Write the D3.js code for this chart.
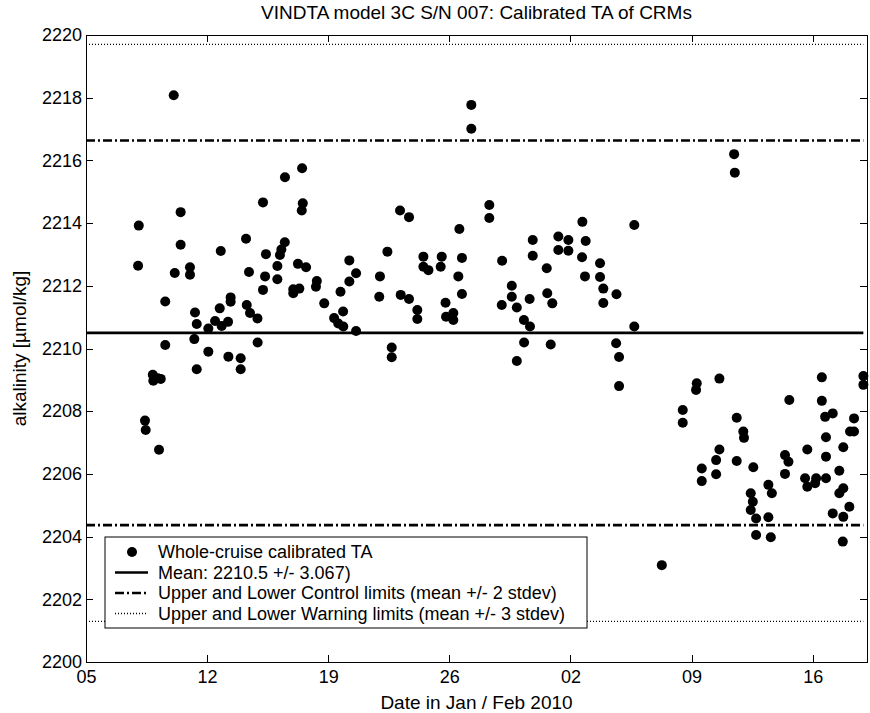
<!DOCTYPE html>
<html>

<head>
    <meta charset="UTF-8">
    <title>VINDTA CRM TA</title>
    <style type="text/css">
        body {
            margin: 0;
            background: #fff;
        }

        text {
            font-family: "Liberation Sans", Arial, Helvetica, sans-serif;
            fill: #000;
        }

        .axis text {
            font-size: 18px;
        }

        .axis path,
        .axis line {
            stroke: #000;
            shape-rendering: crispEdges;
        }

        .legend text {
            font-size: 18px;
        }
    </style>
    <script src="https://d3js.org/d3.v7.min.js"></script>
</head>

<body>
    <script type="text/javascript">
        // Sample times, as day of year 2010 (Jan 5 = 5, Feb 1 = 32)
        const days = [8.05, 8.01, 8.41, 8.45, 8.86, 8.89, 9.14, 9.32, 9.22, 9.58,
            9.58, 10.07, 10.13, 10.47, 10.47, 11.01, 11.01, 11.30, 11.40, 11.26,
            11.40, 12.07, 12.07, 12.46, 12.73, 12.79, 12.84, 13.21, 13.23, 13.36,
            13.36, 13.94, 13.94, 14.25, 14.29, 14.48, 14.42, 14.91, 14.92, 15.23,
            15.23, 15.35, 15.40, 16.06, 16.06, 16.21, 16.29, 16.49, 16.50, 16.98,
            17.33, 16.98, 17.25, 17.72, 17.49, 17.53, 17.47, 18.34, 18.29, 18.77,
            19.34, 19.86, 19.58, 19.87, 19.71, 20.22, 20.61, 20.22, 20.61, 21.95,
            21.99, 22.42, 22.67, 22.67, 23.15, 23.67, 23.19, 23.67, 24.15, 24.15,
            24.50, 24.50, 24.79, 25.56, 25.50, 25.78, 25.81, 26.23, 26.23, 26.58,
            26.73, 26.52, 26.73, 27.27, 27.27, 28.31, 28.31, 29.05, 29.03, 29.61,
            29.61, 29.90, 29.90, 30.31, 30.64, 30.66, 30.32, 30.82, 30.82, 31.63,
            31.66, 31.95, 31.86, 32.30, 32.88, 32.30, 32.88, 33.69, 33.88, 33.67,
            33.84, 34.71, 34.71, 34.90, 34.90, 35.66, 35.64, 35.81, 35.81, 36.69,
            36.69, 38.28, 39.49, 39.49, 40.30, 40.26, 40.59, 40.59, 41.42, 41.42,
            41.61, 41.61, 42.46, 42.50, 42.61, 42.99, 43.03, 42.61, 43.57, 43.42,
            43.54, 43.42, 43.73, 43.73, 44.44, 44.64, 44.44, 44.58, 45.40, 45.60,
            45.40, 45.65, 46.69, 46.56, 46.69, 47.14, 47.20, 47.53, 47.53, 47.72,
            48.16, 47.77, 47.77, 47.77, 48.16, 48.54, 48.54, 48.77, 48.77, 48.77,
            48.74, 49.12, 49.16, 49.39, 49.39, 49.93, 49.93];

        // Calibrated TA of CRMs (umol/kg)
        const ta = [2213.92, 2212.64, 2207.70, 2207.40, 2209.16, 2208.97, 2209.05, 2209.03, 2206.77, 2210.11,
            2211.50, 2218.08, 2212.41, 2214.35, 2213.31, 2212.59, 2212.35, 2211.15, 2210.78, 2210.30,
            2209.34, 2210.64, 2209.90, 2210.88, 2211.28, 2213.11, 2210.72, 2210.85, 2209.74, 2211.63,
            2211.49, 2209.69, 2209.34, 2213.50, 2211.39, 2211.13, 2212.44, 2210.96, 2210.19, 2214.66,
            2211.87, 2212.30, 2213.01, 2212.63, 2212.21, 2212.98, 2213.16, 2213.39, 2215.46, 2211.89,
            2211.91, 2211.76, 2212.70, 2212.59, 2215.75, 2214.63, 2214.40, 2212.15, 2211.97, 2211.44,
            2210.97, 2211.18, 2210.80, 2210.70, 2211.81, 2212.81, 2212.40, 2212.14, 2210.56, 2211.65,
            2212.30, 2213.09, 2210.03, 2209.72, 2214.40, 2214.19, 2211.71, 2211.58, 2211.23, 2210.94,
            2212.93, 2212.61, 2212.50, 2212.93, 2212.61, 2211.46, 2211.01, 2211.13, 2210.91, 2213.81,
            2212.89, 2212.30, 2211.74, 2217.77, 2217.01, 2214.58, 2214.16, 2212.80, 2211.39, 2212.00,
            2211.65, 2211.31, 2209.60, 2210.91, 2211.58, 2210.70, 2210.19, 2213.46, 2212.96, 2212.56,
            2211.76, 2211.44, 2210.13, 2213.57, 2213.46, 2213.14, 2213.12, 2214.04, 2213.43, 2212.91,
            2212.30, 2212.72, 2212.28, 2211.91, 2211.45, 2211.73, 2210.17, 2209.73, 2208.80, 2213.94,
            2210.70, 2203.09, 2208.04, 2207.63, 2208.89, 2208.68, 2206.17, 2205.77, 2206.44, 2205.99,
            2209.04, 2206.78, 2216.20, 2215.61, 2207.79, 2207.35, 2207.15, 2206.41, 2206.21, 2205.38,
            2205.11, 2204.85, 2204.58, 2204.05, 2205.65, 2205.38, 2204.62, 2203.98, 2206.60, 2206.39,
            2206.00, 2208.36, 2206.78, 2205.86, 2205.59, 2205.70, 2205.86, 2209.08, 2208.33, 2207.82,
            2207.93, 2207.17, 2206.55, 2205.86, 2204.74, 2206.10, 2205.38, 2206.85, 2205.54, 2204.63,
            2203.84, 2204.95, 2207.35, 2207.35, 2207.77, 2209.12, 2208.84];

        // Statistics shown in the legend
        const mean = 2210.5;
        const stdev = 3.067;

        // Axis settings
        const xStartDay = 5;
        const xEndDay = 50.14;
        const xTickDays = [5, 12, 19, 26, 33, 40, 47];
        const yTicks = [2200, 2202, 2204, 2206, 2208, 2210, 2212, 2214, 2216, 2218, 2220];

        const legendLabels = [
            "Whole-cruise calibrated TA",
            "Mean: 2210.5 +/- 3.067)",
            "Upper and Lower Control limits (mean +/- 2 stdev)",
            "Upper and Lower Warning limits (mean +/- 3 stdev)"
        ];

        const toDate = d => new Date(Date.UTC(2010, 0, 1) + (d - 1) * 864e5);

        const margin = { top: 35, right: 3, bottom: 51, left: 86 };
        const width = 870 - margin.left - margin.right;
        const height = 713 - margin.top - margin.bottom;

        const svg = d3.select("body")
            .append("svg")
            .attr("width", 870)
            .attr("height", 713)
            .append("g")
            .attr("transform", `translate(${margin.left},${margin.top})`);

        const x = d3.scaleUtc()
            .domain([toDate(xStartDay), toDate(xEndDay)])
            .range([0, width]);

        const y = d3.scaleLinear()
            .domain([2200, 2220])
            .range([height, 0]);

        const data = days.map((d, i) => ({ t: toDate(d), v: ta[i] }));

        // Axes (MATLAB style: ticks inward, box all round)
        const xTicks = xTickDays.map(toDate);
        svg.append("g")
            .attr("class", "axis")
            .attr("transform", `translate(0,${height})`)
            .call(d3.axisBottom(x).tickValues(xTicks).tickFormat(d3.utcFormat("%d"))
                .tickSizeInner(-7).tickSizeOuter(0).tickPadding(8));

        svg.append("g")
            .attr("class", "axis")
            .call(d3.axisTop(x).tickValues(xTicks).tickFormat("")
                .tickSizeInner(-7).tickSizeOuter(0));

        svg.append("g")
            .attr("class", "axis")
            .call(d3.axisLeft(y).tickValues(yTicks).tickFormat(d3.format("d"))
                .tickSizeInner(-7).tickSizeOuter(0).tickPadding(4));

        svg.append("g")
            .attr("class", "axis")
            .attr("transform", `translate(${width},0)`)
            .call(d3.axisRight(y).tickValues(yTicks).tickFormat("")
                .tickSizeInner(-7).tickSizeOuter(0));

        svg.selectAll(".axis .domain").attr("stroke-width", 1);

        // Reference lines
        const lastT = d3.max(data, d => d.t);
        const refLines = [
            { v: mean, dash: null, w: 2.7 },
            { v: mean + 2 * stdev, dash: "9,3,2,3", w: 2.7 },
            { v: mean - 2 * stdev, dash: "9,3,2,3", w: 2.7 },
            { v: mean + 3 * stdev, dash: "1,2", w: 1.3 },
            { v: mean - 3 * stdev, dash: "1,2", w: 1.3 }
        ];

        svg.selectAll(".ref")
            .data(refLines)
            .enter()
            .append("line")
            .attr("x1", x(toDate(xStartDay)))
            .attr("x2", x(lastT))
            .attr("y1", d => y(d.v))
            .attr("y2", d => y(d.v))
            .attr("stroke", "#000")
            .attr("stroke-width", d => d.w)
            .attr("stroke-dasharray", d => d.dash);

        // Points
        svg.selectAll(".dot")
            .data(data)
            .enter()
            .append("circle")
            .attr("cx", d => x(d.t))
            .attr("cy", d => y(d.v))
            .attr("r", 5)
            .attr("fill", "#000");

        // Legend
        const lg = svg.append("g")
            .attr("class", "legend")
            .attr("transform", `translate(${105 - margin.left},${537 - margin.top})`);

        lg.append("rect")
            .attr("width", 482)
            .attr("height", 91)
            .attr("fill", "#fff")
            .attr("stroke", "#000")
            .attr("stroke-width", 1);

        const rowY = i => 15 + i * 20.5;

        lg.append("circle").attr("cx", 27).attr("cy", rowY(0)).attr("r", 5).attr("fill", "#000");
        refLines.filter((d, i) => i === 0 || i === 1 || i === 3).forEach((d, i) => {
            lg.append("line")
                .attr("x1", 10).attr("x2", 43)
                .attr("y1", rowY(i + 1)).attr("y2", rowY(i + 1))
                .attr("stroke", "#000")
                .attr("stroke-width", d.w)
                .attr("stroke-dasharray", d.dash);
        });

        lg.selectAll(".lbl")
            .data(legendLabels)
            .enter()
            .append("text")
            .attr("x", 53)
            .attr("y", (d, i) => rowY(i))
            .attr("dy", "0.36em")
            .text(d => d);

        // Title and axis labels
        svg.append("text")
            .attr("x", width / 2)
            .attr("y", -16)
            .attr("text-anchor", "middle")
            .style("font-size", "19px")
            .text("VINDTA model 3C S/N 007: Calibrated TA of CRMs");

        svg.append("text")
            .attr("x", width / 2)
            .attr("y", height + 47)
            .attr("text-anchor", "middle")
            .style("font-size", "19px")
            .text("Date in Jan / Feb 2010");

        svg.append("text")
            .attr("transform", "rotate(-90)")
            .attr("x", -height / 2)
            .attr("y", -60)
            .attr("text-anchor", "middle")
            .style("font-size", "19px")
            .text("alkalinity [\u00b5mol/kg]");
    </script>
</body>

</html>
